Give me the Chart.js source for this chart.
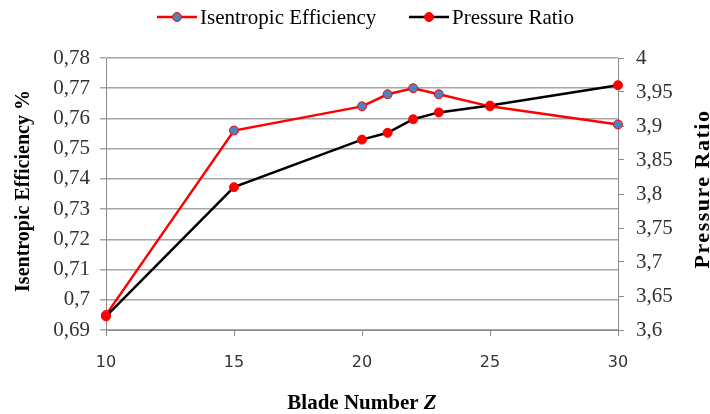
<!DOCTYPE html>
<html>
<head>
<meta charset="utf-8">
<script src="https://cdn.jsdelivr.net/npm/chart.js@4"></script>
<style>
  html, body { margin: 0; padding: 0; background: #fff; }
  #wrap { width: 710px; height: 414px; position: relative; }
</style>
</head>
<body>
<div id="wrap"><canvas id="chart"></canvas></div>
<script>
// Blade number vs isentropic efficiency and pressure ratio
const bladeNumbers = [10, 15, 20, 21, 22, 23, 25, 30];
const efficiency = [0.695, 0.756, 0.764, 0.768, 0.770, 0.768, 0.764, 0.758];
const pressureRatio = [3.62, 3.81, 3.88, 3.89, 3.91, 3.92, 3.93, 3.96];

const xTicks = [10, 15, 20, 25, 30];
const effTicks = [0.69, 0.70, 0.71, 0.72, 0.73, 0.74, 0.75, 0.76, 0.77, 0.78];
const prTicks = [3.6, 3.65, 3.7, 3.75, 3.8, 3.85, 3.9, 3.95, 4];

const serif = '"Times New Roman", "Liberation Serif", "DejaVu Serif", serif';
const gridGray = '#a6a6a6';
const axisGray = '#8c8c8c';
const labelGray = '#333';
const effPointBlue = '#4f81bd';

function commaNum(v) {
  return parseFloat(v.toFixed(3)).toString().replace('.', ',');
}

function toPoints(xs, ys) {
  return xs.map((x, i) => ({ x: x, y: ys[i] }));
}

// Legend and axis titles drawn by hand (line + marker legend, bottom-to-top right title)
const decorPlugin = {
  id: 'decor',
  afterDraw(chart) {
    const ctx = chart.ctx;
    ctx.save();

    // legend
    const legendY = 17;
    const items = [
      { text: 'Isentropic Efficiency', line: '#ff0000', fill: effPointBlue, x: 157 },
      { text: 'Pressure Ratio', line: '#000000', fill: '#ff0000', x: 409 }
    ];
    items.forEach(it => {
      ctx.strokeStyle = it.line;
      ctx.lineWidth = 2.5;
      ctx.beginPath();
      ctx.moveTo(it.x, legendY);
      ctx.lineTo(it.x + 40, legendY);
      ctx.stroke();
      ctx.beginPath();
      ctx.arc(it.x + 20, legendY, 4.5, 0, Math.PI * 2);
      ctx.fillStyle = it.fill;
      ctx.fill();
      ctx.lineWidth = 1;
      ctx.strokeStyle = '#ff0000';
      ctx.stroke();
      ctx.fillStyle = '#000';
      ctx.font = 'normal 400 21px ' + serif;
      ctx.textAlign = 'left';
      ctx.textBaseline = 'middle';
      ctx.fillText(it.text, it.x + 43, legendY + 1);
    });

    // left axis title
    ctx.fillStyle = '#000';
    ctx.textAlign = 'center';
    ctx.textBaseline = 'middle';
    ctx.save();
    ctx.translate(24, 191);
    ctx.rotate(-Math.PI / 2);
    ctx.font = 'bold 20px ' + serif;
    ctx.fillText('Isentropic Efficiency %', 0, 0);
    ctx.restore();

    // right axis title
    ctx.save();
    ctx.translate(703, 189);
    ctx.rotate(-Math.PI / 2);
    ctx.font = 'bold 22px ' + serif;
    ctx.letterSpacing = '1.5px';
    ctx.fillText('Pressure Ratio', 0, 0);
    ctx.restore();

    // bottom axis title with italic Z
    ctx.textBaseline = 'alphabetic';
    ctx.textAlign = 'left';
    const partA = 'Blade Number ';
    const partB = 'Z';
    ctx.font = 'bold 21px ' + serif;
    const wA = ctx.measureText(partA).width;
    ctx.font = 'italic bold 21px ' + serif;
    const wB = ctx.measureText(partB).width;
    const startX = 362 - (wA + wB) / 2;
    ctx.font = 'bold 21px ' + serif;
    ctx.fillText(partA, startX, 409);
    ctx.font = 'italic bold 21px ' + serif;
    ctx.fillText(partB, startX + wA, 409);

    ctx.restore();
  }
};

const ctx = document.getElementById('chart');
new Chart(ctx, {
  type: 'line',
  data: {
    datasets: [
      {
        label: 'Isentropic Efficiency',
        data: toPoints(bladeNumbers, efficiency),
        yAxisID: 'y',
        borderColor: '#ff0000',
        borderWidth: 2.5,
        pointBackgroundColor: effPointBlue,
        pointBorderColor: '#ff0000',
        pointBorderWidth: 1,
        pointRadius: 4.5,
        tension: 0,
        clip: false,
        order: 1
      },
      {
        label: 'Pressure Ratio',
        data: toPoints(bladeNumbers, pressureRatio),
        yAxisID: 'y1',
        borderColor: '#000000',
        borderWidth: 2.5,
        pointBackgroundColor: '#ff0000',
        pointBorderColor: '#ff0000',
        pointBorderWidth: 1,
        pointRadius: 4.5,
        tension: 0,
        clip: false,
        order: 0
      }
    ]
  },
  options: {
    responsive: true,
    maintainAspectRatio: false,
    animation: false,
    layout: { padding: { top: 58, left: 0, right: 0, bottom: 0 } },
    plugins: {
      legend: { display: false },
      tooltip: { enabled: false }
    },
    scales: {
      x: {
        type: 'linear',
        min: 10,
        max: 30,
        afterBuildTicks: axis => { axis.ticks = xTicks.map(v => ({ value: v })); },
        afterFit: axis => { axis.height = 84; },
        grid: { drawOnChartArea: false, color: axisGray, tickLength: 6 },
        border: { color: axisGray, width: 1 },
        ticks: {
          font: { family: '"DejaVu Sans", Verdana, sans-serif', size: 16 },
          color: labelGray,
          padding: 17,
          maxRotation: 0
        }
      },
      y: {
        position: 'left',
        min: 0.69,
        max: 0.78,
        afterBuildTicks: axis => { axis.ticks = effTicks.map(v => ({ value: v })); },
        afterFit: axis => { axis.width = 106; },
        grid: { color: gridGray, lineWidth: 1.5, tickLength: 6 },
        border: { color: axisGray, width: 1 },
        ticks: {
          font: { family: serif, size: 21 },
          color: labelGray,
          padding: 10,
          callback: v => commaNum(v)
        }
      },
      y1: {
        position: 'right',
        min: 3.6,
        max: 4,
        afterBuildTicks: axis => { axis.ticks = prTicks.map(v => ({ value: v })); },
        afterFit: axis => { axis.width = 92; },
        grid: { drawOnChartArea: false, color: axisGray, tickLength: 6 },
        border: { color: axisGray, width: 1 },
        ticks: {
          font: { family: serif, size: 21 },
          color: labelGray,
          padding: 12,
          callback: v => commaNum(v)
        }
      }
    }
  },
  plugins: [decorPlugin]
});
</script>
</body>
</html>
